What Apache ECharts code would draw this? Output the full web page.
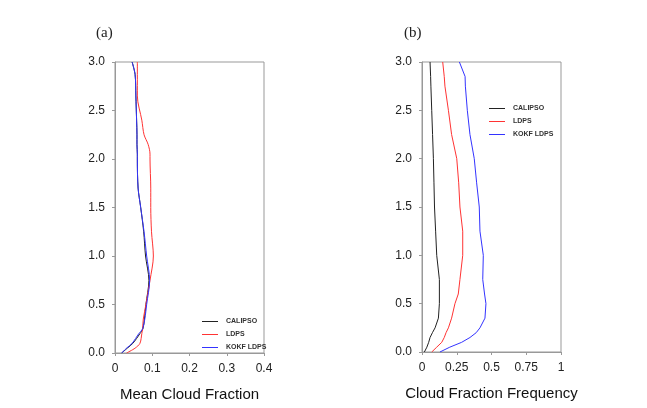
<!DOCTYPE html>
<html><head><meta charset="utf-8">
<script src="https://cdn.jsdelivr.net/npm/echarts@6/dist/echarts.min.js"></script>
<style>html,body{margin:0;padding:0;background:#fff}#c{width:647px;height:408px}</style>
</head><body><div id="c"></div>
<script>
// Panel (a): Mean Cloud Fraction, height (km)
const heightsA = [0, 0.05, 0.1, 0.2, 0.25, 0.35, 0.5, 0.75, 1.0, 1.25, 1.5, 1.7, 2.0, 2.05, 2.15, 2.25, 2.4, 2.65, 2.87, 3.0];
const aCalipso = [0.018, 0.033, 0.048, 0.067, 0.075, 0.079, 0.083, 0.091, 0.082, 0.077, 0.069, 0.062, 0.060, 0.060, 0.059, 0.059, 0.058, 0.056, 0.054, 0.046];
const aLdps    = [0.031, 0.054, 0.067, 0.072, 0.074, 0.076, 0.083, 0.094, 0.103, 0.098, 0.096, 0.096, 0.094, 0.094, 0.089, 0.078, 0.072, 0.060, 0.060, 0.060];
const aKokf    = [0.018, 0.031, 0.046, 0.064, 0.074, 0.080, 0.085, 0.093, 0.085, 0.078, 0.069, 0.062, 0.060, 0.060, 0.059, 0.059, 0.058, 0.056, 0.054, 0.046];
// Panel (b): Cloud Fraction Frequency
const heightsB = [0, 0.05, 0.1, 0.15, 0.2, 0.25, 0.35, 0.5, 0.6, 0.75, 1.0, 1.25, 1.5, 1.75, 2.0, 2.25, 2.5, 2.75, 2.85, 3.0];
const bCalipso = [0.017, 0.035, 0.048, 0.058, 0.075, 0.094, 0.118, 0.125, 0.125, 0.125, 0.106, 0.098, 0.090, 0.086, 0.082, 0.076, 0.070, 0.064, 0.062, 0.058];
const bLdps    = [0.070, 0.106, 0.142, 0.160, 0.173, 0.190, 0.213, 0.237, 0.261, 0.273, 0.293, 0.293, 0.273, 0.264, 0.250, 0.213, 0.190, 0.165, 0.160, 0.149];
const bKokf    = [0.129, 0.200, 0.285, 0.345, 0.390, 0.417, 0.453, 0.460, 0.450, 0.437, 0.441, 0.417, 0.412, 0.393, 0.376, 0.345, 0.326, 0.312, 0.310, 0.269];
const seriesNames = ['CALIPSO', 'LDPS', 'KOKF LDPS'];
const seriesColors = ['#222222', '#ff3333', '#3333ff'];

function pairs(xs, ys){ return xs.map((v,i)=>[v, ys[i]]); }

const chart = echarts.init(document.getElementById('c'), null, {renderer:'canvas'});
const axisCommon = {
  type:'value',
  axisLine:{show:true, lineStyle:{color:'#999', width:1}},
  axisTick:{show:true, inside:false, length:3, lineStyle:{color:'#999'}},
  splitLine:{show:false},
  axisLabel:{color:'#222', fontFamily:'Liberation Sans, Arial', fontSize:12}
};
function xAxis(gi, max, interval, name, fmt){
  return Object.assign({}, axisCommon, {
    gridIndex:gi, min:0, max:max, interval:interval,
    name:name, nameLocation:'middle', nameGap:34,
    nameTextStyle:{color:'#111', fontFamily:'Liberation Sans, Arial', fontSize:15},
    axisLabel:Object.assign({}, axisCommon.axisLabel, {margin:10, formatter:fmt})
  });
}
function yAxis(gi){
  return Object.assign({}, axisCommon, {
    gridIndex:gi, min:0, max:3, interval:0.5,
    axisLabel:Object.assign({}, axisCommon.axisLabel, {margin:10, formatter:v=>v.toFixed(1)})
  });
}
const series = [];
const dataA = [aCalipso, aLdps, aKokf];
const dataB = [bCalipso, bLdps, bKokf];
seriesNames.forEach((n,i)=>{
  series.push({name:n, type:'line', xAxisIndex:0, yAxisIndex:0, data:pairs(dataA[i], heightsA),
    symbol:'none', smooth:0.3, lineStyle:{color:seriesColors[i], width:1}, itemStyle:{color:seriesColors[i]}, z: i===2?3:2});
});
seriesNames.forEach((n,i)=>{
  series.push({name:n, type:'line', xAxisIndex:1, yAxisIndex:1, data:pairs(dataB[i], heightsB),
    symbol:'none', lineStyle:{color:seriesColors[i], width:1}, itemStyle:{color:seriesColors[i]}});
});
const legendCommon = {
  orient:'vertical', icon:'rect', itemWidth:16, itemHeight:1, itemGap:4, padding:0,
  textStyle:{fontSize:7, fontWeight:'bold', color:'#333', fontFamily:'Liberation Sans, Arial', lineHeight:9, padding:[0,0,0,3]},
  data:seriesNames.map((n,i)=>({name:n, itemStyle:{color:seriesColors[i]}})), selectedMode:false
};
chart.setOption({
  animation:false,
  backgroundColor:'#fff',
  title:[
    {text:'(a)', left:91, top:21, textStyle:{fontFamily:'Liberation Serif, serif', fontSize:15, fontWeight:'normal', color:'#222'}},
    {text:'(b)', left:399, top:21, textStyle:{fontFamily:'Liberation Serif, serif', fontSize:15, fontWeight:'normal', color:'#222'}}
  ],
  legend:[
    Object.assign({}, legendCommon, {left:202, top:317}),
    Object.assign({}, legendCommon, {left:489, top:104})
  ],
  grid:[
    {left:115, top:62, width:149, height:291, show:true, borderColor:'#999', borderWidth:1, backgroundColor:'transparent'},
    {left:422, top:62, width:139, height:290, show:true, borderColor:'#999', borderWidth:1, backgroundColor:'transparent'}
  ],
  xAxis:[
    xAxis(0, 0.4, 0.1, 'Mean Cloud Fraction', v=> v===0 ? '0' : String(+v.toFixed(2))),
    xAxis(1, 1, 0.25, 'Cloud Fraction Frequency', v=> String(+v.toFixed(2)))
  ],
  yAxis:[yAxis(0), yAxis(1)],
  series:series
});
</script></body></html>
